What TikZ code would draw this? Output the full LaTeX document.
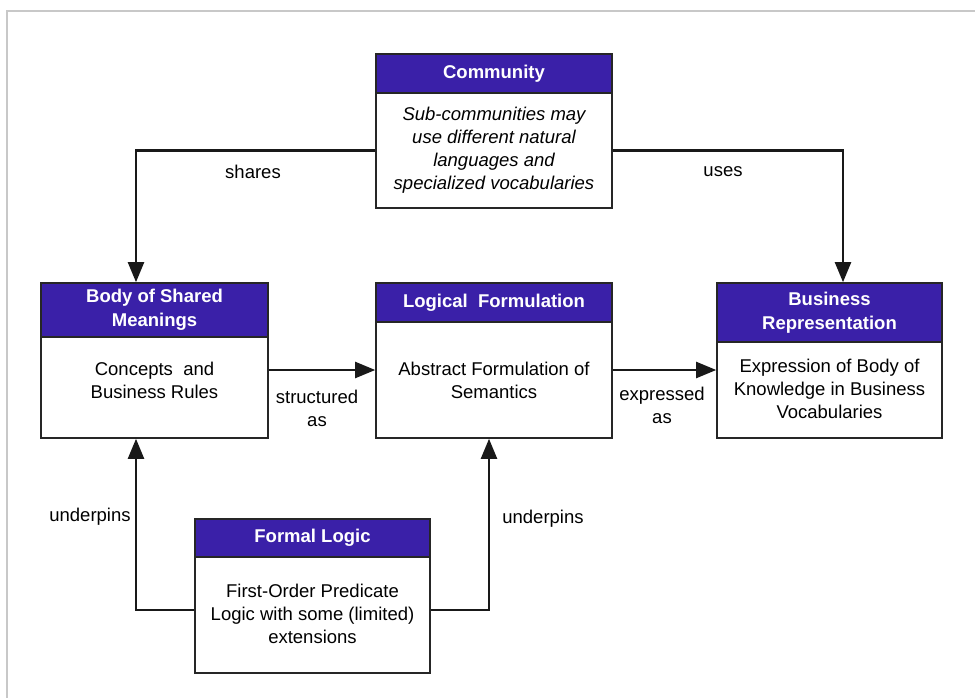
\documentclass[tikz,border=0pt]{standalone}
\usepackage{fontspec}
\setmainfont{Liberation Sans}
\usetikzlibrary{arrows.meta}
\definecolor{hdrblue}{HTML}{3A20A8}
\definecolor{framegray}{HTML}{C8C8C8}
\tikzset{
  hdr/.style={draw=black!85, line width=1.6pt, fill=hdrblue, text=white, font=\fontsize{18.5}{23.5}\selectfont\bfseries, align=center, inner sep=0pt},
  bodybox/.style={draw=black!85, line width=1.6pt, fill=white, inner sep=0pt},
  btext/.style={font=\fontsize{18.5}{23}\selectfont, align=center, inner sep=0pt},
  lbl/.style={font=\fontsize{18.5}{23}\selectfont, align=center, inner sep=0pt},
  arr/.style={draw=black!90, line width=2.2pt, -{Triangle[length=20pt,width=16pt]}},
}
\begin{document}
\begin{tikzpicture}[x=1pt,y=-1pt]
\useasboundingbox (0,0) rectangle (975,698);
\draw[framegray, line width=1.5pt] (7,698) -- (7,11) -- (975,11);

% Community
\node[hdr, minimum width=236pt, minimum height=39pt] (commH) at (494,73.5) {Community};
\node[bodybox, minimum width=236pt, minimum height=115pt] (commB) at (494,150.5) {};
\node[btext, font=\fontsize{18.5}{23}\selectfont\itshape] (commT) at (494,150) {Sub-communities may\\use different natural\\languages and\\specialized vocabularies};

% Body of Shared Meanings
\node[hdr, minimum width=227pt, minimum height=54pt] (bodyH) at (154.5,310) {Body of Shared\\Meanings};
\node[bodybox, minimum width=227pt, minimum height=101pt] (bodyB) at (154.5,387.5) {};
\node[btext] (bodyT) at (154.5,380) {Concepts \ and\\Business Rules};

% Logical Formulation
\node[hdr, minimum width=236pt, minimum height=39pt] (logH) at (494,302.5) {Logical \ Formulation};
\node[bodybox, minimum width=236pt, minimum height=116pt] (logB) at (494,380) {};
\node[btext] (logT) at (494,380) {Abstract Formulation of\\Semantics};

% Business Representation
\node[hdr, minimum width=225pt, minimum height=59pt] (bizH) at (829.5,312.5) {Business\\Representation};
\node[bodybox, minimum width=225pt, minimum height=96pt] (bizB) at (829.5,390) {};
\node[btext] (bizT) at (829.5,389) {Expression of Body of\\Knowledge in Business\\Vocabularies};

% Formal Logic
\node[hdr, minimum width=235pt, minimum height=38pt] (formH) at (312.5,538) {Formal Logic};
\node[bodybox, minimum width=235pt, minimum height=116pt] (formB) at (312.5,615) {};
\node[btext] (formT) at (312.5,614) {First-Order Predicate\\Logic with some (limited)\\extensions};

% connectors
\draw[arr] (commB.west) -| ([xshift=-18.5pt]bodyH.north);
\draw[arr] (commB.east) -| ([xshift=13.5pt]bizH.north);
\coordinate (s1) at ([yshift=17.5pt]bodyB.east);
\draw[arr] (s1) -- (s1 -| logB.west);
\coordinate (e1) at ([yshift=10pt]logB.east);
\draw[arr] (e1) -- (e1 -| bizB.west);
\draw[arr] ([yshift=5pt]formB.west) -| ([xshift=-18.5pt]bodyB.south);
\draw[arr] ([yshift=5pt]formB.east) -| ([xshift=-5pt]logB.south);

% labels
\node[lbl] (lshares) at (253,172) {shares};
\node[lbl] (luses) at (723,172) {uses};
\node[lbl] (lstruct) at (317,408) {structured\\as};
\node[lbl] (lexpr) at (662,405) {expressed\\as};
\node[lbl] (lund1) at (90,517) {underpins};
\node[lbl] (lund2) at (543,519) {underpins};
\end{tikzpicture}
\end{document}
